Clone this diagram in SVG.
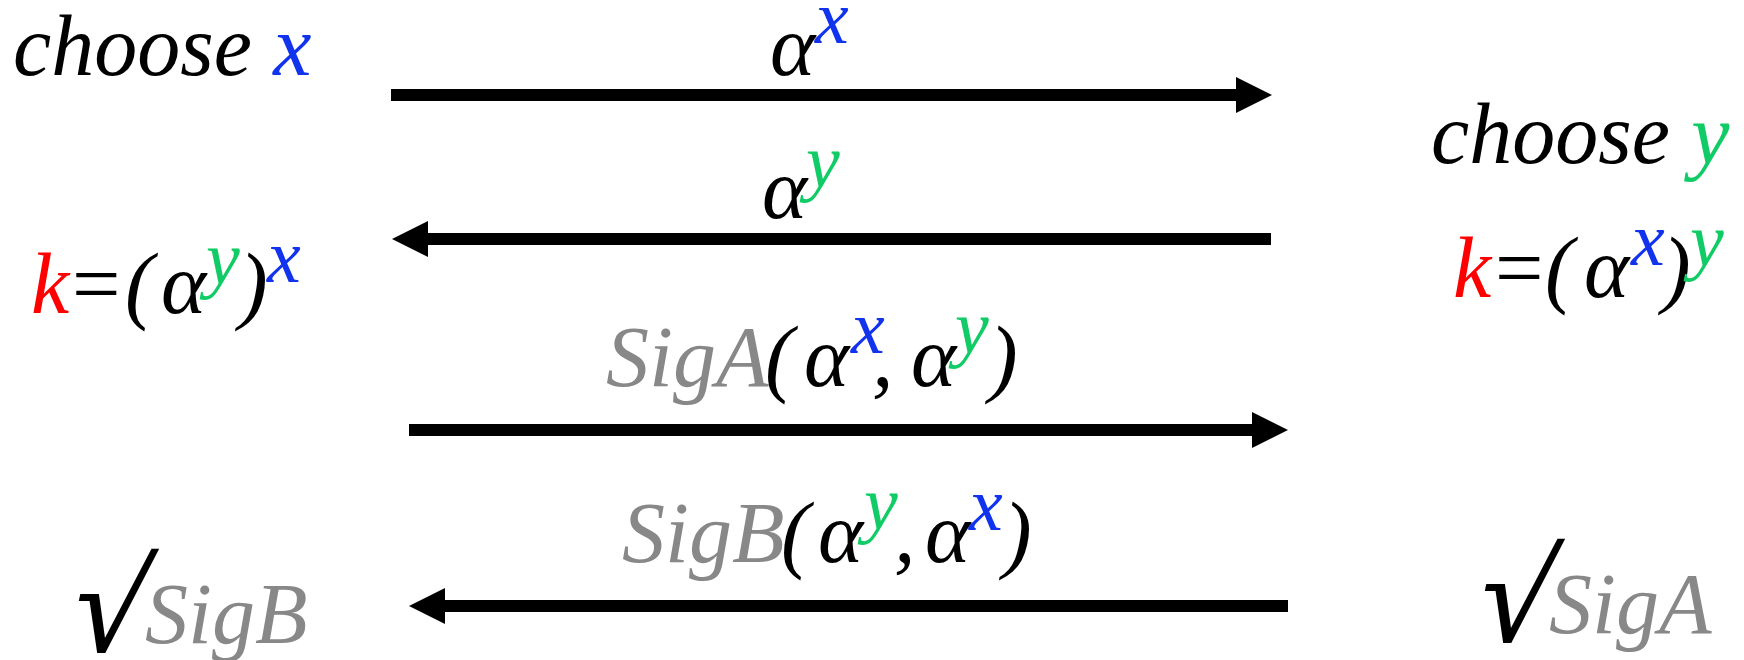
<svg xmlns="http://www.w3.org/2000/svg" width="1744" height="660" viewBox="0 0 1744 660">
<style>
text{font-size:86px;fill:#000}
.sup{font-size:76px}
.b{fill:#1133ee}
.g{fill:#11cc66}
.r{fill:#ff0000}
.gr{fill:#888888}
.chk{font-size:128px;stroke:#000;stroke-width:2}
</style>
<defs>
<marker id="ah" markerUnits="userSpaceOnUse" markerWidth="36" markerHeight="36" viewBox="0 0 36 36" refX="0" refY="18" orient="auto">
<path d="M0,0 L36,18 L0,36 z" fill="#000"/>
</marker>
</defs>
<rect width="1744" height="660" fill="#fff"/>
<g id="connectors" stroke="#000" stroke-width="12" fill="none">
<line x1="391" y1="95" x2="1236" y2="95" marker-end="url(#ah)"/>
<line x1="1271" y1="239" x2="428" y2="239" marker-end="url(#ah)"/>
<line x1="409" y1="430" x2="1252" y2="430" marker-end="url(#ah)"/>
<line x1="1288" y1="606" x2="445" y2="606" marker-end="url(#ah)"/>
</g>
<g id="choose-x"><text font-family="Liberation Serif" font-style="italic" x="13" y="75">choose <tspan class="b">x</tspan></text></g>
<g id="label-ax"><text font-family="Liberation Serif" font-style="italic" x="770" y="75">α</text><text font-family="Liberation Serif" font-style="italic" class="sup b" x="815" y="43">x</text></g>
<g id="choose-y"><text font-family="Liberation Serif" font-style="italic" x="1431" y="163">choose <tspan class="g">y</tspan></text></g>
<g id="label-ay"><text font-family="Liberation Serif" font-style="italic" x="762" y="218">α</text><text font-family="Liberation Serif" font-style="italic" class="sup g" x="806" y="187">y</text></g>
<g id="key-left">
<text font-family="Liberation Serif" font-style="italic" class="r" x="31" y="313">k</text>
<text font-family="Liberation Serif" font-style="normal" x="72" y="313">=</text>
<text font-family="Liberation Serif" font-style="italic" x="125" y="313">(</text>
<text font-family="Liberation Serif" font-style="italic" x="161" y="313">α</text>
<text font-family="Liberation Serif" font-style="italic" class="sup g" x="206" y="284">y</text>
<text font-family="Liberation Serif" font-style="italic" x="239" y="313">)</text>
<text font-family="Liberation Serif" font-style="italic" class="sup b" x="267" y="282">x</text>
</g>
<g id="key-right">
<text font-family="Liberation Serif" font-style="italic" class="r" x="1453" y="297">k</text>
<text font-family="Liberation Serif" font-style="normal" x="1495" y="297">=</text>
<text font-family="Liberation Serif" font-style="italic" x="1545" y="297">(</text>
<text font-family="Liberation Serif" font-style="italic" x="1584" y="297">α</text>
<text font-family="Liberation Serif" font-style="italic" class="sup b" x="1631" y="265">x</text>
<text font-family="Liberation Serif" font-style="italic" x="1662" y="297">)</text>
<text font-family="Liberation Serif" font-style="italic" class="sup g" x="1690" y="266">y</text>
</g>
<g id="label-siga">
<text font-family="Liberation Serif" font-style="italic" class="gr" x="606" y="386">SigA</text>
<text font-family="Liberation Serif" font-style="italic" x="765" y="386">(</text>
<text font-family="Liberation Serif" font-style="italic" x="804" y="386">α</text>
<text font-family="Liberation Serif" font-style="italic" class="sup b" x="851" y="353">x</text>
<text font-family="Liberation Serif" font-style="italic" x="872" y="386">,</text>
<text font-family="Liberation Serif" font-style="italic" x="911" y="386">α</text>
<text font-family="Liberation Serif" font-style="italic" class="sup g" x="955" y="353">y</text>
<text font-family="Liberation Serif" font-style="italic" x="989" y="386">)</text>
</g>
<g id="label-sigb">
<text font-family="Liberation Serif" font-style="italic" class="gr" x="622" y="562">SigB</text>
<text font-family="Liberation Serif" font-style="italic" x="781" y="562">(</text>
<text font-family="Liberation Serif" font-style="italic" x="818" y="562">α</text>
<text font-family="Liberation Serif" font-style="italic" class="sup g" x="864" y="529">y</text>
<text font-family="Liberation Serif" font-style="italic" x="894" y="562">,</text>
<text font-family="Liberation Serif" font-style="italic" x="925" y="562">α</text>
<text font-family="Liberation Serif" font-style="italic" class="sup b" x="969" y="530">x</text>
<text font-family="Liberation Serif" font-style="italic" x="1003" y="562">)</text>
</g>
<g id="check-left"><text font-family="Liberation Serif" font-style="normal" class="chk" transform="translate(66,651) skewX(-12)" x="0" y="0">√</text><text font-family="Liberation Serif" font-style="italic" class="gr" x="145" y="643">SigB</text></g>
<g id="check-right"><text font-family="Liberation Serif" font-style="normal" class="chk" transform="translate(1472,641) skewX(-12)" x="0" y="0">√</text><text font-family="Liberation Serif" font-style="italic" class="gr" x="1549" y="633">SigA</text></g>
</svg>
